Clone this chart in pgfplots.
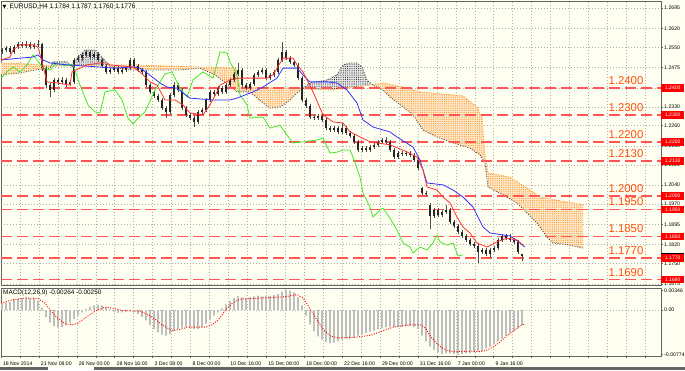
\documentclass[border=0pt]{standalone}
\usepackage{fontspec}
\setmainfont{Liberation Sans}
\newfontfamily\dejavu{DejaVu Sans}
\usepackage{pgfplots}
\pgfplotsset{compat=1.18}
\usetikzlibrary{patterns,patterns.meta}
\definecolor{bg}{RGB}{255,255,241}
\definecolor{lvl}{RGB}{255,85,85}
\definecolor{lvltxt}{RGB}{255,80,10}
\definecolor{cloudo}{RGB}{250,150,30}
\definecolor{gridc}{RGB}{175,175,175}
\definecolor{tenkan}{RGB}{255,50,50}
\definecolor{kijun}{RGB}{50,50,255}
\definecolor{chikou}{RGB}{70,230,40}
\definecolor{histc}{RGB}{190,190,190}
\definecolor{framec}{RGB}{100,100,100}
\pgfplotsset{
  mt/.style={
    scale only axis, width=660bp, xmin=1, xmax=661,
    anchor=south west,
    axis line style={framec, line width=0.8bp},
    grid=major,
    major grid style={gridc, dash pattern=on 1bp off 2bp, line width=0.5bp},
    xtick={1,19.95,...,650},
    ticklabel style={font=\fontsize{5.2}{6}\selectfont, text=black},
    yticklabel style={inner sep=0.8bp},
    tick style={framec, line width=0.5bp},
    tick align=outside, major tick length=2.2bp,
    ytick pos=right, yticklabel pos=right, xtick pos=bottom,
    unbounded coords=jump,
  },
  lv/.style={lvl, line width=1.5bp, dash pattern=on 11bp off 5bp, forget plot},
  orcl/.style={draw=none, fill=cloudo!22, postaction={pattern={Dots[distance=2.2bp, radius=0.6bp]}, pattern color=cloudo}},
  blcl/.style={draw=none, fill=black!10, postaction={pattern={Dots[distance=2.2bp, radius=0.55bp]}, pattern color=black!85}},
}
\tikzset{
  lvlab/.style={lvltxt, font=\fontsize{11.4}{13}\selectfont, anchor=base, yshift=3.7bp},
  rbox/.style={fill=red, text=white, anchor=west, inner sep=0pt, minimum width=23bp, minimum height=7.5bp, font=\fontsize{5}{5}\selectfont},
}
\begin{document}
\begin{tikzpicture}[x=1bp,y=1bp]
\useasboundingbox (0,0) rectangle (685,370);
\fill[bg] (0,0) rectangle (685,370);
% ================= MAIN PRICE PANEL =================
\begin{axis}[mt, at={(1bp,85bp)}, height=284bp, ymin=1.16705, ymax=1.27213,
  ytick={1.2695,1.2620,1.2550,1.2475,1.2400,1.2330,1.2260,1.2185,1.2115,1.2040,1.1970,1.1895,1.1820,1.1750,1.1675},
  yticklabels={1.2695,1.2620,1.2550,1.2475,{},1.2330,1.2260,1.2185,1.2115,1.2040,1.1970,1.1895,1.1820,1.1750,1.1675},
  xticklabels={}, xtick style={draw=none}]
% Kumo cloud as polygons (Senkou A / Senkou B)
\addplot[orcl] coordinates {(1,1.2492)(30,1.2488)(50,1.2481)(51.5,1.2480)(50,1.2473)(35,1.2466)(20,1.2455)(1,1.2448)} -- cycle;
\addplot[blcl] coordinates {(51.5,1.2480)(53,1.2496)(67,1.2496)(72,1.2477)(77,1.2510)(85,1.2540)(95,1.2540)(103,1.2510)(108.5,1.2484)} -- cycle;
\addplot[orcl] coordinates {(108.5,1.2484)(130,1.2485)(200,1.2477)(236,1.2473)(240,1.2403)(290,1.2399)(302,1.2396)(297,1.2381)(290,1.2355)(280,1.2329)(270,1.2325)(263,1.2344)(250,1.2385)(237,1.2385)(215,1.2448)(200,1.2473)(180,1.2466)(130,1.2466)(110,1.2477)} -- cycle;
\addplot[blcl] coordinates {(302,1.2396)(310,1.2418)(327,1.2429)(337,1.2448)(343,1.2485)(350,1.2492)(357,1.2492)(362,1.2477)(367,1.2429)(371,1.2411)(330,1.2392)} -- cycle;
\addplot[orcl] coordinates {(371,1.2411)(383,1.2418)(403,1.2403)(420,1.2385)(463,1.2370)(477,1.2329)(482,1.2292)(485,1.2150)(488,1.2085)(510,1.2070)(533,1.2015)(540,1.1996)(583,1.1967)(583,1.1807)(570,1.1818)(553,1.1826)(547,1.1848)(537,1.1900)(527,1.1937)(517,1.1974)(503,1.2004)(488,1.2033)(485,1.2122)(480,1.2152)(470,1.2177)(453,1.2196)(437,1.2218)(423,1.2244)(413,1.2300)(403,1.2329)(390,1.2366)(383,1.2392)} -- cycle;
% Senkou span B (orange dotted) and span A (dark dotted)
\addplot[cloudo, line width=0.8bp, dash pattern=on 1bp off 1.5bp] coordinates {
(1,1.2492)(30,1.2488)(50,1.2481)(130,1.2485)(200,1.2477)(236,1.2473)(240,1.2403)(290,1.2399)(330,1.2392)(370,1.2410)(383,1.2418)(403,1.2403)(420,1.2385)(463,1.2370)(477,1.2329)(482,1.2292)(485,1.2150)(488,1.2085)(510,1.2070)(533,1.2015)(540,1.1996)(583,1.1967)};
\addplot[black!70, line width=0.8bp, dash pattern=on 1bp off 1.5bp] coordinates {
(1,1.2448)(20,1.2455)(35,1.2466)(50,1.2473)(53,1.2496)(67,1.2496)(72,1.2477)(77,1.2510)(85,1.2540)(95,1.2540)(103,1.2510)(110,1.2477)(130,1.2466)(180,1.2466)(200,1.2473)(215,1.2448)(237,1.2385)(250,1.2385)(263,1.2344)(270,1.2325)(280,1.2329)(290,1.2355)(297,1.2381)(310,1.2418)(327,1.2429)(337,1.2448)(343,1.2485)(350,1.2492)(357,1.2492)(362,1.2477)(367,1.2429)(373,1.2410)(383,1.2392)(390,1.2366)(403,1.2329)(413,1.2300)(423,1.2244)(437,1.2218)(453,1.2196)(470,1.2177)(480,1.2152)(485,1.2122)(488,1.2033)(503,1.2004)(517,1.1974)(527,1.1937)(537,1.1900)(547,1.1848)(553,1.1826)(570,1.1818)(583,1.1807)};
% horizontal levels
\addplot[lv] coordinates {(1,1.2400)(661,1.2400)};
\addplot[lv] coordinates {(1,1.2300)(661,1.2300)};
\addplot[lv] coordinates {(1,1.2200)(661,1.2200)};
\addplot[lv] coordinates {(1,1.2130)(661,1.2130)};
\addplot[lv] coordinates {(1,1.2000)(661,1.2000)};
\addplot[lv] coordinates {(1,1.1950)(661,1.1950)};
\addplot[lv] coordinates {(1,1.1850)(661,1.1850)};
\addplot[lv] coordinates {(1,1.1770)(661,1.1770)};
\addplot[lv] coordinates {(1,1.1690)(661,1.1690)};
% candle wicks (low-high)
\addplot[black!70, line width=0.7bp] coordinates {
(2,1.2527)(2,1.2548)(2,nan)(6,1.2532)(6,1.2555)(6,nan)(10,1.2525)(10,1.2555)(10,nan)(14,1.2525)(14,1.2559)(14,nan)(18,1.2543)(18,1.2570)(18,nan)(22,1.2547)(22,1.2570)(22,nan)(26,1.2547)(26,1.2572)(26,nan)(30,1.2543)(30,1.2570)(30,nan)(34,1.2543)(34,1.2567)(34,nan)(38,1.2551)(38,1.2577)(38,nan)
(42,1.2462)(42,1.2566)(42,nan)(46,1.2400)(46,1.2481)(46,nan)(50,1.2366)(50,1.2418)(50,nan)(54,1.2384)(54,1.2437)(54,nan)(58,1.2410)(58,1.2437)(58,nan)(62,1.2414)(62,1.2440)(62,nan)(66,1.2403)(66,1.2437)(66,nan)(70,1.2406)(70,1.2430)(70,nan)(74,1.2414)(74,1.2511)(74,nan)(78,1.2495)(78,1.2520)(78,nan)
(82,1.2500)(82,1.2529)(82,nan)(86,1.2513)(86,1.2541)(86,nan)(90,1.2506)(90,1.2540)(90,nan)(94,1.2506)(94,1.2533)(94,nan)(98,1.2495)(98,1.2531)(98,nan)(102,1.2473)(102,1.2511)(102,nan)(106,1.2450)(106,1.2489)(106,nan)(110,1.2451)(110,1.2474)(110,nan)(114,1.2458)(114,1.2481)(114,nan)(118,1.2451)(118,1.2481)(118,nan)
(122,1.2451)(122,1.2474)(122,nan)(126,1.2458)(126,1.2481)(126,nan)(130,1.2465)(130,1.2510)(130,nan)(134,1.2473)(134,1.2511)(134,nan)(138,1.2458)(138,1.2489)(138,nan)(142,1.2448)(142,1.2474)(142,nan)(146,1.2402)(146,1.2467)(146,nan)(150,1.2377)(150,1.2418)(150,nan)(154,1.2362)(154,1.2393)(154,nan)(158,1.2347)(158,1.2378)(158,nan)
(162,1.2317)(162,1.2363)(162,nan)(166,1.2288)(166,1.2333)(166,nan)(170,1.2303)(170,1.2382)(170,nan)(174,1.2366)(174,1.2420)(174,nan)(178,1.2384)(178,1.2418)(178,nan)(182,1.2317)(182,1.2400)(182,nan)(186,1.2292)(186,1.2333)(186,nan)(190,1.2280)(190,1.2308)(190,nan)(194,1.2255)(194,1.2296)(194,nan)(198,1.2266)(198,1.2319)(198,nan)
(202,1.2303)(202,1.2326)(202,nan)(206,1.2310)(206,1.2363)(206,nan)(210,1.2347)(210,1.2393)(210,nan)(214,1.2369)(214,1.2393)(214,nan)(218,1.2369)(218,1.2407)(218,nan)(222,1.2377)(222,1.2407)(222,nan)(226,1.2377)(226,1.2418)(226,nan)(230,1.2402)(230,1.2437)(230,nan)(234,1.2421)(234,1.2459)(234,nan)(238,1.2443)(238,1.2492)(238,nan)
(242,1.2402)(242,1.2474)(242,nan)(246,1.2391)(246,1.2418)(246,nan)(250,1.2391)(250,1.2422)(250,nan)(254,1.2406)(254,1.2456)(254,nan)(258,1.2440)(258,1.2467)(258,nan)(262,1.2451)(262,1.2474)(262,nan)(266,1.2428)(266,1.2474)(266,nan)(270,1.2428)(270,1.2456)(270,nan)(274,1.2440)(274,1.2467)(274,nan)(278,1.2451)(278,1.2511)(278,nan)
(282,1.2495)(282,1.2570)(282,nan)(286,1.2502)(286,1.2541)(286,nan)(290,1.2488)(290,1.2518)(290,nan)(294,1.2477)(294,1.2504)(294,nan)(298,1.2428)(298,1.2493)(298,nan)(302,1.2347)(302,1.2444)(302,nan)(306,1.2325)(306,1.2363)(306,nan)(310,1.2284)(310,1.2341)(310,nan)(314,1.2280)(314,1.2300)(314,nan)(318,1.2280)(318,1.2304)(318,nan)
(322,1.2273)(322,1.2304)(322,nan)(326,1.2243)(326,1.2289)(326,nan)(330,1.2236)(330,1.2259)(330,nan)(334,1.2236)(334,1.2259)(334,nan)(338,1.2229)(338,1.2259)(338,nan)(342,1.2229)(342,1.2270)(342,nan)(346,1.2225)(346,1.2259)(346,nan)(350,1.2214)(350,1.2241)(350,nan)(354,1.2192)(354,1.2230)(354,nan)(358,1.2162)(358,1.2208)(358,nan)
(362,1.2162)(362,1.2185)(362,nan)(366,1.2162)(366,1.2185)(366,nan)(370,1.2162)(370,1.2189)(370,nan)(374,1.2173)(374,1.2197)(374,nan)(378,1.2181)(378,1.2208)(378,nan)(382,1.2192)(382,1.2215)(382,nan)(386,1.2192)(386,1.2218)(386,nan)(390,1.2162)(390,1.2208)(390,nan)(394,1.2136)(394,1.2178)(394,nan)(398,1.2136)(398,1.2167)(398,nan)
(402,1.2147)(402,1.2167)(402,nan)(406,1.2147)(406,1.2167)(406,nan)(410,1.2144)(410,1.2167)(410,nan)(414,1.2125)(414,1.2160)(414,nan)(418,1.2095)(418,1.2141)(418,nan)(422,1.2004)(422,1.2033)(422,nan)(426,1.1998)(426,1.2018)(426,nan)(430,1.1878)(430,1.1974)(430,nan)(434,1.1918)(434,1.1956)(434,nan)(438,1.1922)(438,1.1956)(438,nan)
(442,1.1922)(442,1.1949)(442,nan)(446,1.1933)(446,1.1966)(446,nan)(450,1.1896)(450,1.1956)(450,nan)(454,1.1881)(454,1.1912)(454,nan)(458,1.1859)(458,1.1897)(458,nan)(462,1.1844)(462,1.1875)(462,nan)(466,1.1829)(466,1.1860)(466,nan)(470,1.1814)(470,1.1845)(470,nan)(474,1.1807)(474,1.1830)(474,nan)(478,1.1752)(478,1.1823)(478,nan)
(482,1.1785)(482,1.1808)(482,nan)(486,1.1777)(486,1.1808)(486,nan)(490,1.1770)(490,1.1808)(490,nan)(494,1.1792)(494,1.1815)(494,nan)(498,1.1799)(498,1.1845)(498,nan)(502,1.1829)(502,1.1860)(502,nan)(506,1.1836)(506,1.1860)(506,nan)(510,1.1829)(510,1.1859)(510,nan)(514,1.1821)(514,1.1845)(514,nan)(518,1.1785)(518,1.1837)(518,nan)
(522,1.1760)(522,1.1787)(522,nan)};
% candle bodies (open-close)
\addplot[black!85, line width=2.1bp] coordinates {
(2,1.2535)(2,1.2540)(2,nan)(6,1.2540)(6,1.2547)(6,nan)(10,1.2547)(10,1.2533)(10,nan)(14,1.2533)(14,1.2551)(14,nan)(18,1.2551)(18,1.2562)(18,nan)(22,1.2562)(22,1.2555)(22,nan)(26,1.2555)(26,1.2562)(26,nan)(30,1.2562)(30,1.2551)(30,nan)(34,1.2551)(34,1.2559)(34,nan)(38,1.2559)(38,1.2562)(38,nan)
(42,1.2562)(42,1.2473)(42,nan)(46,1.2473)(46,1.2410)(46,nan)(50,1.2410)(50,1.2392)(50,nan)(54,1.2392)(54,1.2429)(54,nan)(58,1.2429)(58,1.2422)(58,nan)(62,1.2422)(62,1.2429)(62,nan)(66,1.2429)(66,1.2414)(66,nan)(70,1.2414)(70,1.2422)(70,nan)(74,1.2422)(74,1.2503)(74,nan)(78,1.2503)(78,1.2510)(78,nan)
(82,1.2510)(82,1.2521)(82,nan)(86,1.2521)(86,1.2533)(86,nan)(90,1.2533)(90,1.2514)(90,nan)(94,1.2514)(94,1.2525)(94,nan)(98,1.2525)(98,1.2503)(98,nan)(102,1.2503)(102,1.2481)(102,nan)(106,1.2481)(106,1.2459)(106,nan)(110,1.2459)(110,1.2466)(110,nan)(114,1.2466)(114,1.2473)(114,nan)(118,1.2473)(118,1.2459)(118,nan)
(122,1.2459)(122,1.2466)(122,nan)(126,1.2466)(126,1.2473)(126,nan)(130,1.2473)(130,1.2503)(130,nan)(134,1.2503)(134,1.2481)(134,nan)(138,1.2481)(138,1.2466)(138,nan)(142,1.2466)(142,1.2459)(142,nan)(146,1.2459)(146,1.2410)(146,nan)(150,1.2410)(150,1.2385)(150,nan)(154,1.2385)(154,1.2370)(154,nan)(158,1.2370)(158,1.2355)(158,nan)
(162,1.2355)(162,1.2325)(162,nan)(166,1.2325)(166,1.2311)(166,nan)(170,1.2311)(170,1.2374)(170,nan)(174,1.2374)(174,1.2410)(174,nan)(178,1.2410)(178,1.2392)(178,nan)(182,1.2392)(182,1.2325)(182,nan)(186,1.2325)(186,1.2300)(186,nan)(190,1.2300)(190,1.2288)(190,nan)(194,1.2288)(194,1.2274)(194,nan)(198,1.2274)(198,1.2311)(198,nan)
(202,1.2311)(202,1.2318)(202,nan)(206,1.2318)(206,1.2355)(206,nan)(210,1.2355)(210,1.2385)(210,nan)(214,1.2385)(214,1.2377)(214,nan)(218,1.2377)(218,1.2399)(218,nan)(222,1.2399)(222,1.2385)(222,nan)(226,1.2385)(226,1.2410)(226,nan)(230,1.2410)(230,1.2429)(230,nan)(234,1.2429)(234,1.2451)(234,nan)(238,1.2451)(238,1.2466)(238,nan)
(242,1.2466)(242,1.2410)(242,nan)(246,1.2410)(246,1.2399)(246,nan)(250,1.2399)(250,1.2414)(250,nan)(254,1.2414)(254,1.2448)(254,nan)(258,1.2448)(258,1.2459)(258,nan)(262,1.2459)(262,1.2466)(262,nan)(266,1.2466)(266,1.2436)(266,nan)(270,1.2436)(270,1.2448)(270,nan)(274,1.2448)(274,1.2459)(274,nan)(278,1.2459)(278,1.2503)(278,nan)
(282,1.2503)(282,1.2533)(282,nan)(286,1.2533)(286,1.2510)(286,nan)(290,1.2510)(290,1.2496)(290,nan)(294,1.2496)(294,1.2485)(294,nan)(298,1.2485)(298,1.2436)(298,nan)(302,1.2436)(302,1.2355)(302,nan)(306,1.2355)(306,1.2333)(306,nan)(310,1.2333)(310,1.2292)(310,nan)(314,1.2292)(314,1.2288)(314,nan)(318,1.2288)(318,1.2296)(318,nan)
(322,1.2296)(322,1.2281)(322,nan)(326,1.2281)(326,1.2251)(326,nan)(330,1.2251)(330,1.2244)(330,nan)(334,1.2244)(334,1.2251)(334,nan)(338,1.2251)(338,1.2237)(338,nan)(342,1.2237)(342,1.2251)(342,nan)(346,1.2251)(346,1.2233)(346,nan)(350,1.2233)(350,1.2222)(350,nan)(354,1.2222)(354,1.2200)(354,nan)(358,1.2200)(358,1.2170)(358,nan)
(362,1.2170)(362,1.2177)(362,nan)(366,1.2177)(366,1.2170)(366,nan)(370,1.2170)(370,1.2181)(370,nan)(374,1.2181)(374,1.2189)(374,nan)(378,1.2189)(378,1.2200)(378,nan)(382,1.2200)(382,1.2207)(382,nan)(386,1.2207)(386,1.2200)(386,nan)(390,1.2200)(390,1.2170)(390,nan)(394,1.2170)(394,1.2144)(394,nan)(398,1.2144)(398,1.2159)(398,nan)
(402,1.2159)(402,1.2155)(402,nan)(406,1.2155)(406,1.2159)(406,nan)(410,1.2159)(410,1.2152)(410,nan)(414,1.2152)(414,1.2133)(414,nan)(418,1.2133)(418,1.2103)(418,nan)(422,1.2029)(422,1.2011)(422,nan)(426,1.2011)(426,1.2007)(426,nan)(430,1.1966)(430,1.1926)(430,nan)(434,1.1926)(434,1.1948)(434,nan)(438,1.1948)(438,1.1930)(438,nan)
(442,1.1930)(442,1.1941)(442,nan)(446,1.1941)(446,1.1948)(446,nan)(450,1.1948)(450,1.1904)(450,nan)(454,1.1904)(454,1.1889)(454,nan)(458,1.1889)(458,1.1867)(458,nan)(462,1.1867)(462,1.1852)(462,nan)(466,1.1852)(466,1.1837)(466,nan)(470,1.1837)(470,1.1822)(470,nan)(474,1.1822)(474,1.1815)(474,nan)(478,1.1815)(478,1.1793)(478,nan)
(482,1.1793)(482,1.1800)(482,nan)(486,1.1800)(486,1.1785)(486,nan)(490,1.1785)(490,1.1800)(490,nan)(494,1.1800)(494,1.1807)(494,nan)(498,1.1807)(498,1.1837)(498,nan)(502,1.1837)(502,1.1852)(502,nan)(506,1.1852)(506,1.1844)(506,nan)(510,1.1844)(510,1.1837)(510,nan)(514,1.1837)(514,1.1829)(514,nan)(518,1.1829)(518,1.1793)(518,nan)
(522,1.1784)(522,1.1776)(522,nan)};
% Chikou span (green)
\addplot[chikou, line width=0.8bp] coordinates {
(1,1.2436)(7,1.2459)(13,1.2477)(20,1.2459)(27,1.2485)(33,1.2522)(37,1.2503)(43,1.2473)(50,1.2466)(57,1.2492)(65,1.2481)(73,1.2488)(80,1.2410)(88,1.2337)(95,1.2311)(100,1.2307)(105,1.2385)(115,1.2392)(122,1.2355)(128,1.2288)(133,1.2266)(138,1.2288)(145,1.2311)(155,1.2392)(165,1.2451)(172,1.2459)(180,1.2399)(187,1.2366)(193,1.2429)(203,1.2459)(213,1.2436)(220,1.2533)(227,1.2529)(230,1.2496)(237,1.2448)(240,1.2374)(247,1.2337)(250,1.2288)(263,1.2292)(270,1.2251)(280,1.2262)(287,1.2225)(293,1.2196)(303,1.2200)(317,1.2207)(323,1.2214)(330,1.2159)(337,1.2162)(343,1.2170)(350,1.2170)(353,1.2144)(360,1.2070)(363,1.2011)(370,1.1959)(373,1.1922)(380,1.1948)(383,1.1955)(390,1.1918)(397,1.1874)(403,1.1826)(410,1.1811)(413,1.1789)(420,1.1811)(427,1.1800)(433,1.1826)(437,1.1855)(440,1.1830)(447,1.1818)(453,1.1826)(458,1.1778)(463,1.1782)};
% Kijun-sen (blue)
\addplot[kijun, line width=0.8bp] coordinates {
(1,1.2503)(20,1.2510)(33,1.2514)(38,1.2522)(43,1.2503)(50,1.2492)(67,1.2485)(100,1.2477)(113,1.2473)(133,1.2477)(140,1.2473)(147,1.2455)(160,1.2418)(167,1.2403)(177,1.2399)(183,1.2381)(190,1.2362)(213,1.2355)(230,1.2355)(237,1.2362)(253,1.2385)(263,1.2403)(277,1.2436)(283,1.2473)(297,1.2473)(303,1.2448)(310,1.2422)(327,1.2422)(337,1.2418)(347,1.2392)(357,1.2344)(363,1.2281)(373,1.2255)(390,1.2237)(397,1.2218)(413,1.2181)(420,1.2133)(427,1.2048)(443,1.2041)(453,1.2022)(463,1.1996)(473,1.1959)(483,1.1885)(490,1.1863)(497,1.1859)(510,1.1852)(520,1.1826)(525,1.1811)};
% Tenkan-sen (red)
\addplot[tenkan, line width=0.8bp] coordinates {
(1,1.2503)(10,1.2514)(13,1.2540)(20,1.2559)(33,1.2559)(38,1.2551)(42,1.2496)(47,1.2422)(57,1.2418)(70,1.2410)(72,1.2459)(80,1.2473)(87,1.2485)(100,1.2492)(107,1.2492)(110,1.2485)(133,1.2477)(140,1.2459)(150,1.2422)(157,1.2410)(165,1.2355)(175,1.2355)(183,1.2337)(190,1.2307)(203,1.2300)(210,1.2337)(217,1.2385)(220,1.2410)(230,1.2429)(237,1.2436)(267,1.2436)(273,1.2448)(283,1.2510)(293,1.2510)(297,1.2485)(303,1.2459)(313,1.2385)(323,1.2300)(333,1.2274)(343,1.2270)(350,1.2237)(370,1.2200)(390,1.2189)(407,1.2163)(417,1.2144)(423,1.2096)(427,1.2033)(437,1.2022)(443,1.1996)(450,1.1974)(457,1.1922)(463,1.1885)(470,1.1863)(477,1.1826)(487,1.1811)(497,1.1830)(507,1.1844)(517,1.1837)(523,1.1818)};
% level labels
\node[lvlab] at (axis cs:626,1.2400) {1.2400};
\node[lvlab] at (axis cs:626,1.2300) {1.2300};
\node[lvlab] at (axis cs:626,1.2200) {1.2200};
\node[lvlab] at (axis cs:626,1.2130) {1.2130};
\node[lvlab] at (axis cs:626,1.2000) {1.2000};
\node[lvlab] at (axis cs:626,1.1950) {1.1950};
\node[lvlab] at (axis cs:626,1.1850) {1.1850};
\node[lvlab] at (axis cs:626,1.1770) {1.1770};
\node[lvlab] at (axis cs:626,1.1690) {1.1690};
\coordinate (r1) at (axis cs:661,1.2400);
\coordinate (r2) at (axis cs:661,1.2300);
\coordinate (r3) at (axis cs:661,1.2200);
\coordinate (r4) at (axis cs:661,1.2130);
\coordinate (r5) at (axis cs:661,1.2000);
\coordinate (r6) at (axis cs:661,1.1950);
\coordinate (r7) at (axis cs:661,1.1850);
\coordinate (r8) at (axis cs:661,1.1770);
\coordinate (r9) at (axis cs:661,1.1690);
\coordinate (rc) at (axis cs:661,1.1776);
\end{axis}
% ================= MACD PANEL =================
\begin{axis}[mt, at={(1bp,14bp)}, height=68bp, ymin=-0.00805, ymax=0.00385,
  scaled y ticks=false,
  ytick={0}, yticklabels={0.00},
  extra y ticks={0.00346,-0.00774}, extra y tick labels={0.00346,-0.00774},
  extra y tick style={grid=none},
  xticklabels={18 Nov 2014,{},21 Nov 08:00,{},26 Nov 00:00,{},28 Nov 16:00,{},3 Dec 08:00,{},8 Dec 00:00,{},10 Dec 16:00,{},15 Dec 08:00,{},18 Dec 00:00,{},22 Dec 16:00,{},29 Dec 00:00,{},31 Dec 16:00,{},7 Jan 00:00,{},9 Jan 16:00,{},{},{},{},{},{},{},{}},
  xticklabel style={anchor=north west, xshift=-1.5bp}]
\addplot[ybar, bar width=1.6bp, bar shift=0bp, fill=histc, draw=none] coordinates {
(2,0.0012)(6,0.0013)(10,0.0014)(14,0.0018)(18,0.0020)(22,0.0021)(26,0.0022)(30,0.0021)(34,0.0020)(38,0.0016)(42,0.0004)(46,-0.0012)(50,-0.0022)(54,-0.0028)(58,-0.0031)(62,-0.0030)(66,-0.0027)(70,-0.0022)(74,-0.0016)(78,-0.0010)(82,-0.0004)(86,0.0002)(90,0.0006)(94,0.0008)(98,0.0009)(102,0.0008)(106,0.0005)(110,0.0001)(114,-0.0003)(118,-0.0005)(122,-0.0004)(126,-0.0003)(130,-0.0002)(134,-0.0004)(138,-0.0007)(142,-0.0012)(146,-0.0018)(150,-0.0026)(154,-0.0033)(158,-0.0039)(162,-0.0043)(166,-0.0045)(170,-0.0042)(174,-0.0037)(178,-0.0033)(182,-0.0031)(186,-0.0030)(190,-0.0031)(194,-0.0033)(198,-0.0033)(202,-0.0030)(206,-0.0024)(210,-0.0017)(214,-0.0010)(218,-0.0004)(222,0.0003)(226,0.0010)(230,0.0016)(234,0.0021)(238,0.0024)(242,0.0022)(246,0.0021)(250,0.0022)(254,0.0024)(258,0.0025)(262,0.0024)(266,0.0024)(270,0.0025)(274,0.0026)(278,0.0028)(282,0.0032)(286,0.0035)(290,0.0034)(294,0.0031)(298,0.0022)(302,0.0008)(306,-0.0010)(310,-0.0025)(314,-0.0037)(318,-0.0046)(322,-0.0052)(326,-0.0056)(330,-0.0058)(334,-0.0057)(338,-0.0055)(342,-0.0052)(346,-0.0050)(350,-0.0049)(354,-0.0048)(358,-0.0045)(362,-0.0043)(366,-0.0040)(370,-0.0038)(374,-0.0036)(378,-0.0034)(382,-0.0032)(386,-0.0030)(390,-0.0029)(394,-0.0030)(398,-0.0030)(402,-0.0029)(406,-0.0028)(410,-0.0028)(414,-0.0030)(418,-0.0033)(422,-0.0045)(426,-0.0055)(430,-0.0064)(434,-0.0070)(438,-0.0074)(442,-0.0077)(446,-0.0076)(450,-0.0076)(454,-0.0077)(458,-0.0078)(462,-0.0077)(466,-0.0076)(470,-0.0075)(474,-0.0074)(478,-0.0073)(482,-0.0071)(486,-0.0067)(490,-0.0064)(494,-0.0060)(498,-0.0055)(502,-0.0050)(506,-0.0045)(510,-0.0040)(514,-0.0037)(518,-0.0032)(522,-0.0026)};
\addplot[red, line width=0.9bp, dash pattern=on 1bp off 1.5bp] coordinates {
(1,0.0012)(13,0.0018)(25,0.0021)(38,0.0020)(45,0.0012)(52,-0.0004)(58,-0.0015)(65,-0.0024)(72,-0.0026)(78,-0.0023)(86,-0.0013)(95,-0.0002)(105,0.0005)(113,0.0003)(122,-0.0001)(140,-0.0002)(148,-0.0008)(155,-0.0016)(162,-0.0026)(172,-0.0036)(180,-0.0034)(188,-0.0030)(205,-0.0030)(212,-0.0026)(218,-0.0018)(227,0.0003)(233,0.0013)(240,0.0019)(262,0.0021)(284,0.0023)(297,0.0027)(303,0.0021)(308,0.0008)(313,-0.0006)(318,-0.0020)(323,-0.0034)(330,-0.0045)(338,-0.0049)(354,-0.0048)(371,-0.0044)(385,-0.0035)(393,-0.0030)(410,-0.0026)(421,-0.0026)(426,-0.0033)(430,-0.0045)(436,-0.0057)(441,-0.0065)(448,-0.0071)(454,-0.0073)(472,-0.0072)(480,-0.0073)(487,-0.0070)(493,-0.0065)(500,-0.0056)(507,-0.0045)(514,-0.0036)(520,-0.0028)(524,-0.0025)};
\end{axis}
% ================= overlays =================
\node[rbox] at (r1) {1.2400};
\node[rbox] at (r2) {1.2300};
\node[rbox] at (r3) {1.2200};
\node[rbox] at (r4) {1.2130};
\node[rbox] at (r5) {1.2000};
\node[rbox] at (r6) {1.1950};
\node[rbox] at (r7) {1.1850};
\fill[black] ([yshift=-1bp]rc) rectangle ++(23,4.5);
\node[rbox] at (r8) {1.1770};
\node[rbox] at (r9) {1.1690};
\node[anchor=west, inner sep=0pt, font=\dejavu\fontsize{5}{6}\selectfont] at (2.5,363) {▼};
\node[anchor=west, inner sep=0pt, font=\fontsize{6.6}{7}\selectfont] at (9.5,363) {EURUSD,H4 1.1784 1.1787 1.1760 1.1776};
\node[anchor=west, inner sep=0pt, font=\fontsize{6.4}{7}\selectfont] at (3,77.5) {MACD(12,26,9) -0.00264 -0.00250};
\fill[black!60] (0,0) rectangle (685,3.2);
\fill[white] (48,0) rectangle (94,2.6);
\end{tikzpicture}
\end{document}
